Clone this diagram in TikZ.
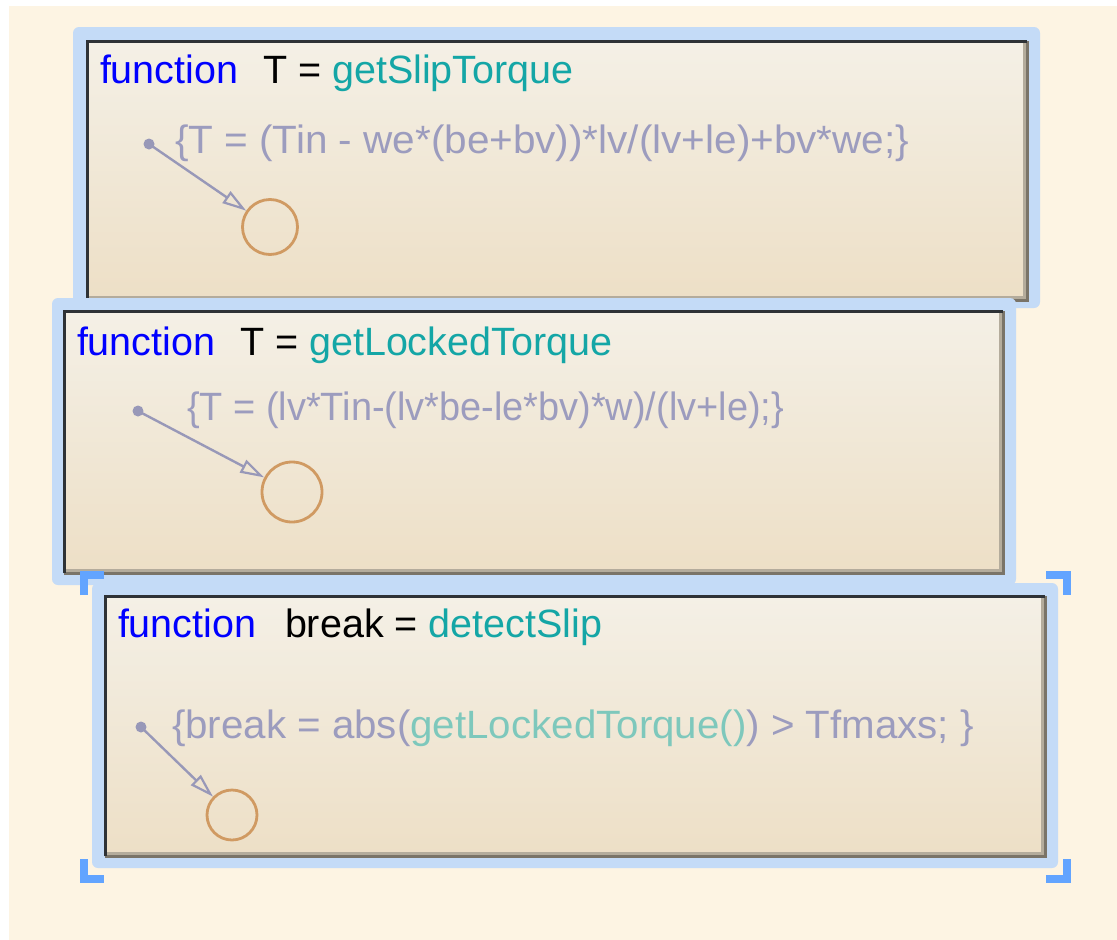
\documentclass[tikz,border=0pt]{standalone}
\usepackage{fontspec}
\setmainfont{Liberation Sans}
\usetikzlibrary{arrows.meta}
\definecolor{bg}{HTML}{FDF4E3}
\definecolor{halo}{HTML}{C4DBF7}
\definecolor{boxtop}{HTML}{F4F0E6}
\definecolor{boxbot}{HTML}{EDDFC6}
\definecolor{edgedk}{HTML}{2E3236}
\definecolor{edgelt}{HTML}{7A7468}
\definecolor{edgelt2}{HTML}{B4AC9C}
\definecolor{kw}{HTML}{0000FF}
\definecolor{fn}{HTML}{14A6A6}
\definecolor{codec}{HTML}{9C9CBE}
\definecolor{fnl}{HTML}{7EC8BC}
\definecolor{trc}{HTML}{9898B8}
\definecolor{stc}{HTML}{D09A62}
\definecolor{sel}{HTML}{62A4FF}
\begin{document}
\begin{tikzpicture}[x=1pt,y=-1pt,
  stbox/.style={minimum width=940pt, minimum height=260pt, inner sep=0pt, outer sep=0pt,
    top color=boxtop, bottom color=boxbot},
  txt/.style={anchor=base west, inner sep=0pt, outer sep=0pt, font=\fontsize{39.5pt}{46pt}\selectfont},
  kwtxt/.style={txt, text=kw},
  codetxt/.style={txt, text=codec},
  dotn/.style={circle, fill=trc, inner sep=0pt, minimum size=11pt},
  stn/.style={circle, draw=stc, line width=2.8pt, inner sep=0pt},
  trans/.style={draw=trc, line width=2.4pt, -{Triangle[open, length=24pt, width=14pt, line width=2.2pt]}},
  selmark/.style={draw=sel, line width=8pt, line cap=butt, line join=miter},
  halofill/.style={fill=halo, rounded corners=6pt}
]
\useasboundingbox (0,0) rectangle (1117,940);
\fill[white] (0,0) rectangle (1117,940);
\fill[bg] (9,6) rectangle (1117,940);

% ---------- box 1 ----------
\fill[halofill] (73,27) rectangle (1040,308);
\path (557,170.5) node[stbox, minimum width=940pt, minimum height=259pt] (b1) {};
\draw[edgelt2, line width=3pt] ([shift={(-3,2)}]b1.north east) -- ([shift={(-3,-3)}]b1.south east) -- ([shift={(2,-3)}]b1.south west);
\draw[edgelt, line width=3pt] (b1.north east) -- (b1.south east) -- (b1.south west);
\draw[edgedk, line width=3pt] (b1.south west) -- (b1.north west) -- (b1.north east);
\node[kwtxt] (k1) at (100,83) {function};
\node[txt] (t1) at (263,83) {T = \textcolor{fn}{getSlipTorque}};
\node[codetxt] (a1) at (175,153) {\scalebox{1.025}[1]{\{T = (Tin - we*(be+bv))*lv/(lv+le)+bv*we;\}}};
\node[dotn] (d1) at (149,144) {};
\node[stn, minimum size=55pt] (c1) at (270,227) {};
\draw[trans] (d1.center) -- (c1);

% ---------- box 2 ----------
\fill[halofill] (52,298) rectangle (1016,585);
\path (533.5,442) node[stbox, minimum width=939pt, minimum height=262pt] (b2) {};
\draw[edgelt2, line width=3pt] ([shift={(-3,2)}]b2.north east) -- ([shift={(-3,-3)}]b2.south east) -- ([shift={(2,-3)}]b2.south west);
\draw[edgelt, line width=3pt] (b2.north east) -- (b2.south east) -- (b2.south west);
\draw[edgedk, line width=3pt] (b2.south west) -- (b2.north west) -- (b2.north east);
\node[kwtxt] (k2) at (77,355) {function};
\node[txt] (t2) at (240,355) {T = \textcolor{fn}{getLockedTorque}};
\node[codetxt] (a2) at (187,420) {\scalebox{0.96}[1]{\{T = (lv*Tin-(lv*be-le*bv)*w)/(lv+le);\}}};
\node[dotn] (d2) at (138,411) {};
\node[stn, minimum size=60pt] (c2) at (292,492) {};
\draw[trans] (d2.center) -- (c2);

% ---------- box 3 ----------
\fill[halofill] (92,583) rectangle (1058,868);
\path (575,726) node[stbox, minimum width=940pt, minimum height=260pt] (b3) {};
\draw[edgelt2, line width=3pt] ([shift={(-3,2)}]b3.north east) -- ([shift={(-3,-3)}]b3.south east) -- ([shift={(2,-3)}]b3.south west);
\draw[edgelt, line width=3pt] (b3.north east) -- (b3.south east) -- (b3.south west);
\draw[edgedk, line width=3pt] (b3.south west) -- (b3.north west) -- (b3.north east);
\node[kwtxt] (k3) at (118,637) {function};
\node[txt] (t3) at (285,637) {break = \textcolor{fn}{detectSlip}};
\node[codetxt] (a3) at (172,738) {\scalebox{1.02}[1]{\{break = abs(\textcolor{fnl}{getLockedTorque()}) > Tfmaxs; \}}};
\node[dotn] (d3) at (141,727) {};
\node[stn, minimum size=50pt] (c3) at (232,815) {};
\draw[trans] (d3.center) -- (c3);

% ---------- selection marks ----------
\draw[selmark] (84,595) -- (84,575) -- (104,575);
\draw[selmark] (1046,575) -- (1067,575) -- (1067,595);
\draw[selmark] (84,859) -- (84,879) -- (104,879);
\draw[selmark] (1046,879) -- (1067,879) -- (1067,859);
\end{tikzpicture}
\end{document}
